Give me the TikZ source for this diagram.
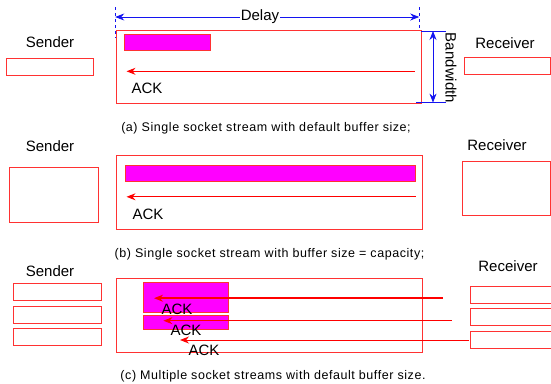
\documentclass[tikz,border=0pt]{standalone}
\usepackage{fontspec}
\setmainfont{Liberation Sans}
\newfontfamily\capfont[LetterSpace=4.5]{Liberation Sans}
\usetikzlibrary{arrows.meta}
\definecolor{linered}{RGB}{255,50,50}
\definecolor{dimblue}{RGB}{20,20,240}
\definecolor{barmag}{RGB}{255,0,255}
\begin{document}
\begin{tikzpicture}[x=1pt, y=-1pt, >={Stealth[length=9pt, width=7pt]},
    box/.style={draw=linered, line width=0.8pt, inner sep=0pt, outer sep=0pt, anchor=north west},
    bar/.style={box, fill=barmag},
    lbl/.style={font=\fontsize{15}{18}\selectfont},
    captxt/.style={font=\capfont\fontsize{12.5}{15}\selectfont},
    ack/.style={->, red, line width=1pt},
    dim/.style={dimblue, line width=0.8pt}]
    \useasboundingbox (0,0) rectangle (551,383);

    % (a) default buffer
    \node[lbl] (a-snd) at (50,42) {Sender};
    \node[box, minimum width=87.5pt, minimum height=16.8pt] (a-sbox) at (6.3,58.7) {};
    \node[lbl] (a-rcv) at (505,43) {Receiver};
    \node[box, minimum width=86pt, minimum height=17pt] (a-rbox) at (464.5,57) {};
    \node[box, minimum width=305.6pt, minimum height=73.6pt] (a-link) at (116,30) {};
    \node[bar, minimum width=86pt, minimum height=16pt] (a-bar) at (124,34) {};
    \coordinate (a-ackR) at (414.6,71.3);
    \coordinate (a-ackL) at (126.5,71.3);
    \draw[ack] (a-ackR) -- (a-ackL);
    \node[lbl] (a-ack) at (147,88) {ACK};

    % Delay
    \coordinate (dl) at (115.2,17);
    \coordinate (dr) at (419.2,17);
    \draw[dim, dashed] (115.2,7) -- (115.2,38);
    \draw[dim, dashed] (419.2,7) -- (419.2,30);
    \draw[dim, <->] (dl) -- (dr);
    \node[lbl, fill=white, inner sep=1pt] (delay) at (260,17) {Delay};

    % Bandwidth
    \coordinate (bt) at (433,31);
    \coordinate (bb) at (433,102.6);
    \draw[dim] (421,31) -- (446,31);
    \draw[dim] (416,102.6) -- (446,102.6);
    \draw[dim, <->] (bt) -- (bb);
    \node[lbl, rotate=-90] (bw) at (451,68) {Bandwidth};

    \node[captxt] (a-cap) at (266,128) {(a) Single socket stream with default buffer size;};

    % (b) buffer = capacity
    \node[lbl] (b-snd) at (50,146) {Sender};
    \node[box, minimum width=88.6pt, minimum height=55pt] (b-sbox) at (9.8,167) {};
    \node[lbl] (b-rcv) at (497,145) {Receiver};
    \node[box, minimum width=88pt, minimum height=54pt] (b-rbox) at (462.5,161) {};
    \node[box, minimum width=306.7pt, minimum height=73.4pt] (b-link) at (116,155.6) {};
    \node[bar, minimum width=290.3pt, minimum height=16pt] (b-bar) at (125.4,165) {};
    \coordinate (b-ackR) at (415.7,196.8);
    \coordinate (b-ackL) at (126.5,196.8);
    \draw[ack] (b-ackR) -- (b-ackL);
    \node[lbl] (b-ack) at (148,214.3) {ACK};

    \node[captxt] (b-cap) at (269.5,254.7) {(b) Single socket stream with buffer size = capacity;};

    % (c) multiple streams
    \node[lbl] (c-snd) at (50,271) {Sender};
    \foreach \y [count=\i] in {283.8,306.6,328.8}
        \node[box, minimum width=87.5pt, minimum height=17pt] (c-sbox\i) at (13.6,\y) {};
    \node[lbl] (c-rcv) at (508,266) {Receiver};
    \foreach \y [count=\i] in {286,308.4,331}
        \node[box, minimum width=81pt, minimum height=17pt] (c-rbox\i) at (470,\y) {};
    \node[box, minimum width=306.7pt, minimum height=74.2pt] (c-link) at (116,278.5) {};
    \node[bar, minimum width=85.4pt, minimum height=29.6pt] (c-bar1) at (143,282.4) {};
    \node[bar, minimum width=85.4pt, minimum height=14.5pt] (c-bar2) at (143,315) {};
    \coordinate (c-ackR1) at (442.7,298.2);
    \coordinate (c-ackL1) at (154,298.2);
    \coordinate (c-ackR2) at (451.5,320.7);
    \coordinate (c-ackL2) at (163.4,320.7);
    \coordinate (c-ackR3) at (469,340);
    \coordinate (c-ackL3) at (180,340);
    \draw[ack, line width=1.8pt] (c-ackR1) -- (c-ackL1);
    \draw[ack] (c-ackR2) -- (c-ackL2);
    \draw[ack] (c-ackR3) -- (c-ackL3);
    \node[lbl] (c-ack1) at (177,309.5) {ACK};
    \node[lbl] (c-ack2) at (186,330.5) {ACK};
    \node[lbl] (c-ack3) at (204,350.6) {ACK};

    \node[captxt] (c-cap) at (273,376) {(c) Multiple socket streams with default buffer size.};
\end{tikzpicture}
\end{document}
